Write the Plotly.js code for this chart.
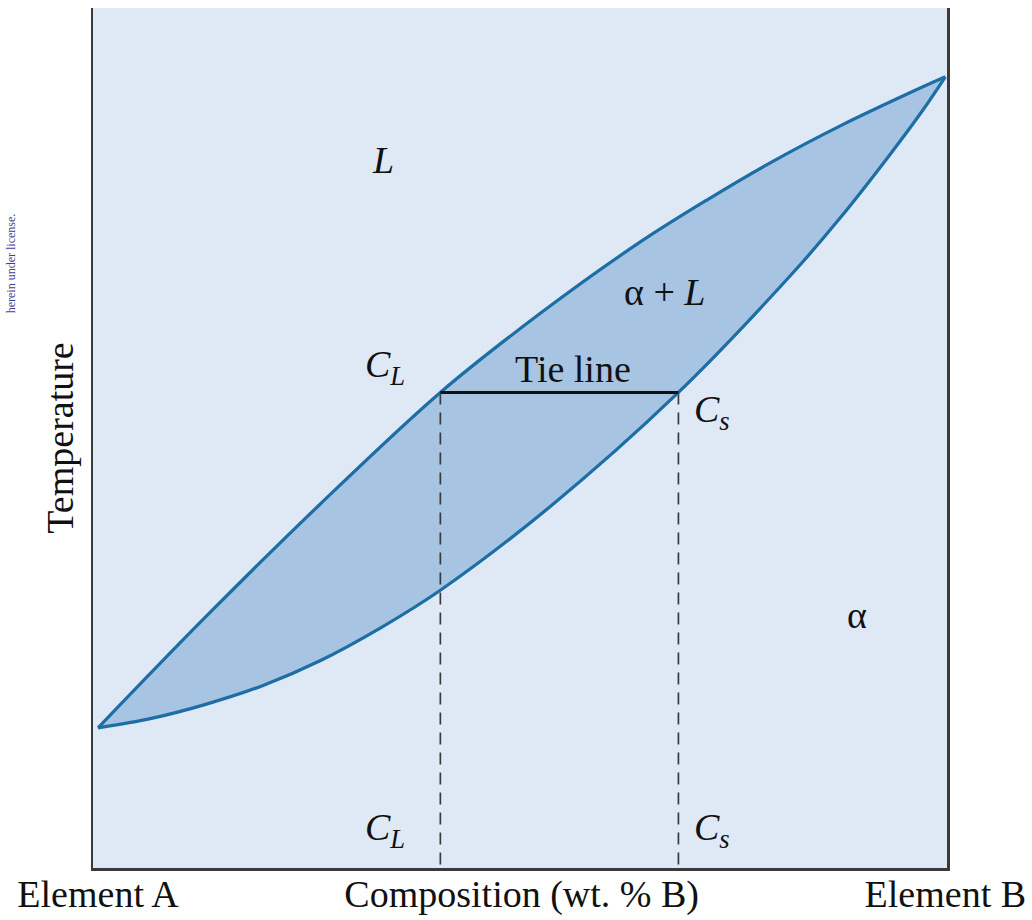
<!DOCTYPE html>
<html>
<head>
<meta charset="utf-8">
<script src="https://cdn.plot.ly/plotly-3.0.1.min.js"></script>
<style>
  html, body { margin: 0; padding: 0; background: #ffffff; }
  #chart { width: 1032px; height: 920px; }
</style>
</head>
<body>
<div id="chart"></div>
<script>
// Liquidus curve (upper boundary of the alpha + L region)
const liquidusComp = [0, 12.6, 26.2, 40.4, 52.2, 64.0, 71.9, 79.7, 87.6, 95.5, 100];
const liquidusTemp = [16.3, 29.1, 42.3, 55.3, 64.5, 72.8, 77.7, 82.2, 86.3, 90.0, 92.0];

// Solidus curve (lower boundary of the alpha + L region)
const solidusComp = [0, 6.3, 12.6, 19.4, 26.2, 33.3, 40.4, 53.2, 68.5, 82.1, 87.6, 93.5, 97.4, 100];
const solidusTemp = [16.3, 17.4, 19.0, 21.2, 24.1, 27.9, 32.3, 41.9, 55.3, 69.3, 75.6, 83.0, 88.2, 92.0];

// Tie line
const tieLineTemp = 55.3;
const tieCL = 40.4;
const tieCs = 68.5;

// Axis tick labels
const xTickVals = [0, 50, 100];
const xTickText = ['Element A', 'Composition (wt. % B)', 'Element B'];
const yTitle = 'Temperature';

const curveColor = '#1d6ea5';
const serif = 'Liberation Serif, Times New Roman, serif';

const traces = [
  {
    x: solidusComp, y: solidusTemp, type: 'scatter', mode: 'lines',
    line: { width: 0, shape: 'spline', color: 'rgba(0,0,0,0)' },
    hoverinfo: 'skip', showlegend: false
  },
  {
    x: liquidusComp, y: liquidusTemp, type: 'scatter', mode: 'lines',
    fill: 'tonexty', fillcolor: '#a7c4e3',
    line: { width: 0, shape: 'spline', color: 'rgba(0,0,0,0)' },
    hoverinfo: 'skip', showlegend: false
  },
  {
    x: [tieCL, tieCL], y: [tieLineTemp, 0], type: 'scatter', mode: 'lines',
    line: { color: '#3a3a3a', width: 1.7, dash: '12px,8px' },
    showlegend: false, hoverinfo: 'skip'
  },
  {
    x: [tieCs, tieCs], y: [tieLineTemp, 0], type: 'scatter', mode: 'lines',
    line: { color: '#3a3a3a', width: 1.7, dash: '12px,8px' },
    showlegend: false, hoverinfo: 'skip'
  },
  {
    name: 'Liquidus', x: liquidusComp, y: liquidusTemp, type: 'scatter', mode: 'lines',
    line: { color: curveColor, width: 3.2, shape: 'spline' }, showlegend: false
  },
  {
    name: 'Solidus', x: solidusComp, y: solidusTemp, type: 'scatter', mode: 'lines',
    line: { color: curveColor, width: 3.2, shape: 'spline' }, showlegend: false
  },
  {
    name: 'Tie line', x: [tieCL, tieCs], y: [tieLineTemp, tieLineTemp], type: 'scatter', mode: 'lines',
    line: { color: '#111111', width: 3 }, showlegend: false
  }
];

const labelFont = { family: serif, size: 38, color: '#111111' };
function lab(text, x, y) {
  return { text: text, x: x, y: y, xref: 'x', yref: 'y', showarrow: false,
           font: labelFont, xanchor: 'center', yanchor: 'middle' };
}

const layout = {
  width: 1032, height: 920,
  margin: { l: 93, r: 85, t: 8, b: 52 },
  paper_bgcolor: '#ffffff',
  plot_bgcolor: '#dfe9f6',
  showlegend: false,
  xaxis: {
    range: [-0.6, 100.2],
    showgrid: false, zeroline: false,
    showline: true, linecolor: '#3a3a3a', linewidth: 2.5, mirror: false,
    ticks: '', tickvals: xTickVals, ticktext: xTickText,
    ticklabelstandoff: -9,
    tickfont: { family: serif, size: 38, color: '#111111' }
  },
  yaxis: {
    range: [0, 100],
    showgrid: false, zeroline: false,
    showline: true, linecolor: '#3a3a3a', linewidth: 2.5, mirror: true,
    ticks: '', showticklabels: false,
    title: { text: yTitle, standoff: 5, font: { family: serif, size: 38, color: '#111111' } }
  },
  annotations: [
    lab('<i>L</i>', 33.6, 82.3),
    lab('α + <i>L</i>', 66.9, 67.0),
    lab('<i>C</i><sub><i>L</i></sub>', 33.9, 58.3),
    lab('Tie line', 56.0, 58.0),
    lab('<i>C</i><sub><i>s</i></sub>', 72.5, 53.0),
    lab('<i>C</i><sub><i>L</i></sub>', 33.9, 4.4),
    lab('<i>C</i><sub><i>s</i></sub>', 72.5, 4.4),
    lab('α', 89.6, 29.4),
    { text: 'herein under license.', xref: 'paper', yref: 'paper', x: -0.095, y: 0.703,
      textangle: -90, showarrow: false, xanchor: 'center', yanchor: 'middle',
      font: { family: serif, size: 12, color: '#3f3f90' } }
  ]
};

Plotly.newPlot('chart', traces, layout, { displayModeBar: false, staticPlot: true });
</script>
</body>
</html>
